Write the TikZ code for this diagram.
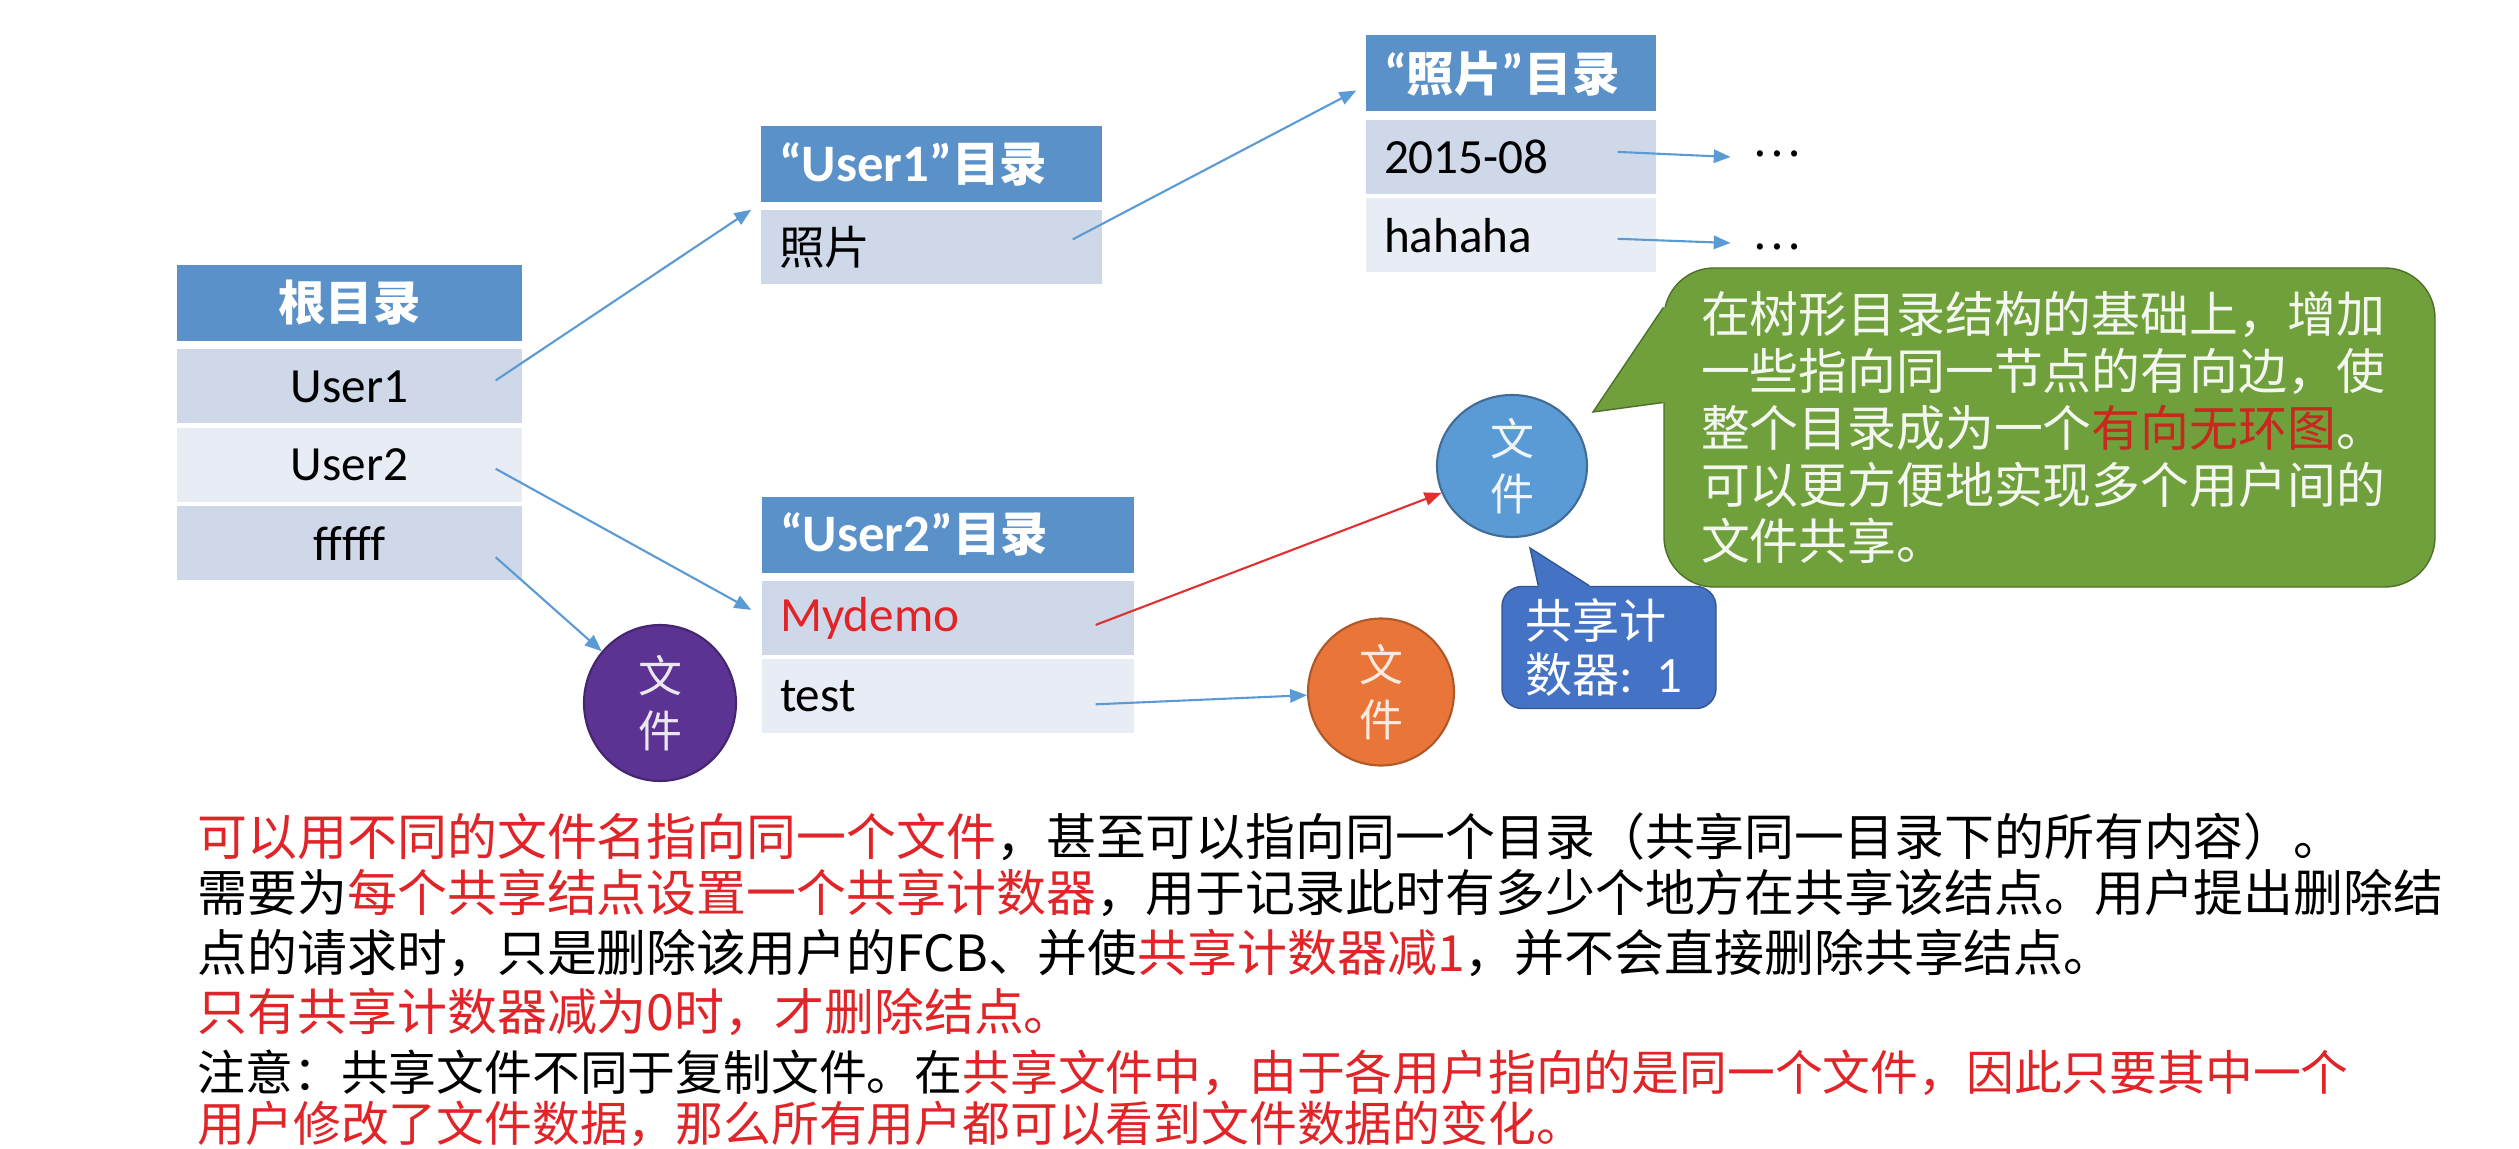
\documentclass[tikz,border=0pt]{standalone}
\usepackage{fontspec}
\setmainfont{Noto Sans CJK SC}
\newfontfamily\latfont{Carlito}
\usepackage{xcolor}
\usepackage{tikz}
\usetikzlibrary{arrows.meta, positioning, shapes.geometric}
\definecolor{hdrBlue}{RGB}{91,145,201}
\definecolor{rowDark}{RGB}{207,216,232}
\definecolor{rowLight}{RGB}{232,237,245}
\definecolor{arrBlue}{RGB}{91,155,213}
\definecolor{arrRed}{RGB}{224,48,48}
\definecolor{hiRed}{RGB}{224,36,40}
\definecolor{noteRed}{RGB}{200,40,30}
\definecolor{filePurple}{RGB}{92,50,146}
\definecolor{fileOrange}{RGB}{233,118,56}
\definecolor{fileBlue}{RGB}{91,155,213}
\definecolor{noteGreen}{RGB}{112,160,60}
\definecolor{noteBlue}{RGB}{68,114,196}
\newcommand\hdrfont{\fontsize{13.5}{16}\selectfont\bfseries}
\newcommand\cellfont{\fontsize{13}{15.5}\selectfont}
\newcommand\latcellfont{\fontsize{14}{16}\selectfont\latfont}
\newcommand\filefont{\fontsize{12.5}{15.5}\selectfont}
\newcommand\notefont{\fontsize{13.9}{16.2}\selectfont}
\newcommand\cntfont{\fontsize{13.4}{15.6}\selectfont}
\newcommand\bodyfont{\fontsize{14.2}{17}\selectfont}
\newcommand\redtxt[1]{\textcolor{hiRed}{#1}}

\begin{document}
\begin{tikzpicture}[
  hdr/.style={rectangle, fill=hdrBlue, text=white, font=\hdrfont, minimum height=0.76cm,
              inner xsep=0.18cm, inner ysep=0pt, text width=#1, align=left},
  cell/.style={rectangle, font=\cellfont, minimum height=0.74cm,
               inner xsep=0.18cm, inner ysep=0pt, text width=#1, align=left},
  dark/.style={fill=rowDark},
  light/.style={fill=rowLight},
  lat/.style={font=\latcellfont},
  file/.style={ellipse, font=\filefont, align=center, inner sep=0pt, line width=0.6pt},
  arr/.style={-{Triangle[length=4.8pt, width=3.8pt]}, line width=0.6pt, draw=arrBlue},
  note/.style={rectangle, fill=noteGreen, draw=noteGreen!70!black, rounded corners=0.5cm,
               text=white!92!noteGreen, font=\notefont, text width=6.97cm, inner xsep=0.37cm,
               minimum height=3.19cm, align=left},
  cntbox/.style={rectangle, fill=noteBlue, draw=noteBlue!75!black, rounded corners=0.2cm,
                 text=white, font=\cntfont, text width=1.68cm, inner xsep=0.23cm,
                 minimum height=1.19cm, align=left},
  body/.style={anchor=west, inner sep=0pt, font=\bodyfont}
]
\fill[white] (0,0) rectangle (25.19,-11.49);
\useasboundingbox (0,0) rectangle (25.19,-11.49);

% root directory
\node[hdr=3.09cm, align=center] (root) at (3.495,-3.03) {根目录};
\node[cell=3.09cm, dark, lat, align=center, below=0.07cm of root] (r1) {User1};
\node[cell=3.09cm, light, lat, align=center, below=0.03cm of r1] (r2) {User2};
\node[cell=3.09cm, dark, lat, align=center, below=0.03cm of r2] (r3) {fffff};

% user directories
\node[hdr=3.05cm] (ua) at (9.315,-1.64) {{\latfont\fontsize{15}{16}\selectfont “User1”}目录};
\node[cell=3.05cm, dark, below=0.07cm of ua] (ua1) {照片};
\node[hdr=2.54cm] (pa) at (15.11,-0.735) {{\latfont\fontsize{15}{16}\selectfont “}照片{\latfont\fontsize{15}{16}\selectfont ”}目录};
\node[cell=2.54cm, dark, lat, below=0.07cm of pa] (pa1) {2015-08};
\node[cell=2.54cm, light, lat, below=0.03cm of pa1] (pa2) {hahaha};
\node[hdr=3.36cm] (ub) at (9.48,-5.345) {{\latfont\fontsize{15}{16}\selectfont “User2”}目录};
\node[cell=3.36cm, dark, lat, text=hiRed, below=0.07cm of ub] (ub1) {Mydemo};
\node[cell=3.36cm, light, lat, below=0.03cm of ub1] (ub2) {test};

\node[font=\cellfont, inner sep=0pt] (d1) at (17.765,-1.54) {…};
\node[font=\cellfont, inner sep=0pt] (d2) at (17.765,-2.47) {…};

% files
\node[file, fill=filePurple, draw=filePurple!75!black, text=white!88!filePurple,
      minimum width=1.52cm, minimum height=1.56cm] (f1) at (6.60,-7.03) {文\\件};
\node[file, fill=fileOrange, draw=fileOrange!75!black, text=white!85!fileOrange,
      minimum width=1.46cm, minimum height=1.47cm] (f2) at (13.81,-6.92) {文\\件};
\node[file, fill=fileBlue, draw=fileBlue!70!black, text=white!90!fileBlue,
      minimum width=1.50cm, minimum height=1.42cm] (f3) at (15.12,-4.66) {文\\件};

\draw[arr] ([xshift=-0.27cm,yshift=0.06cm]r1.east) -- ([xshift=-0.09cm]ua1.north west);
\draw[arr] ([xshift=-0.27cm,yshift=-0.04cm]r2.east) -- ([xshift=-0.1cm,yshift=0.08cm]ub1.west);
\draw[arr] ([xshift=-0.27cm,yshift=-0.14cm]r3.east) -- (f1);
\draw[arr] ([xshift=-0.3cm,yshift=0.08cm]ua1.east) -- ([xshift=-0.09cm,yshift=-0.17cm]pa.west);
\draw[arr, draw=arrRed] ([xshift=-0.39cm,yshift=-0.07cm]ub1.east) -- (f3);
\draw[arr] ([xshift=-0.39cm,yshift=-0.08cm]ub2.east) -- (f2);
\draw[arr] ([xshift=-0.39cm,yshift=0.05cm]pa1.east) -- ([xshift=-0.21cm,yshift=-0.03cm]d1.west);
\draw[arr] ([xshift=-0.39cm,yshift=-0.035cm]pa2.east) -- ([xshift=-0.21cm,yshift=0.04cm]d2.west);

% callouts
\node[note] (note) at (20.495,-4.275) {在树形目录结构的基础上，增加\\
  一些指向同一节点的有向边，使\\
  整个目录成为一个\textcolor{noteRed}{有向无环图}。\\
  可以更方便地实现多个用户间的\\
  文件共享。};
\coordinate (nt) at (15.93,-4.12);
\fill[noteGreen] (nt) -- ([yshift=1.2cm]note.west) -- ([xshift=0.1cm,yshift=1.2cm]note.west)
  -- ([xshift=0.1cm,yshift=0.25cm]note.west) -- ([yshift=0.25cm]note.west) -- cycle;
\draw[noteGreen!70!black] ([yshift=1.2cm]note.west) -- (nt) -- ([yshift=0.25cm]note.west);

\node[cntbox] (cnt) at (16.09,-6.475) {共享计\\数器{\latfont\fontsize{14.5}{15.6}\selectfont: 1}};
\coordinate (ct) at (15.30,-5.48);
\fill[noteBlue] (ct) -- ([xshift=0.37cm]cnt.north west) -- ([xshift=0.37cm,yshift=-0.1cm]cnt.north west)
  -- ([xshift=0.88cm,yshift=-0.1cm]cnt.north west) -- ([xshift=0.88cm]cnt.north west) -- cycle;
\draw[noteBlue!75!black] ([xshift=0.37cm]cnt.north west) -- (ct) -- ([xshift=0.88cm]cnt.north west);

% explanation text
\node[body] (t1) at (1.97,-8.37) {\redtxt{可以用不同的文件名指向同一个文件}，甚至可以指向同一个目录（共享同一目录下的所有内容）。};
\node[body] (t2) at (1.97,-8.93) {需要为\redtxt{每个共享结点设置一个共享计数器}，用于记录此时有多少个地方在共享该结点。用户提出删除结};
\node[body] (t3) at (1.97,-9.53) {点的请求时，只是删除该用户的FCB、并使\redtxt{共享计数器减1}，并不会直接删除共享结点。};
\node[body] (t4) at (1.97,-10.12) {\redtxt{只有共享计数器减为0时，才删除结点。}};
\node[body, font=\fontsize{13.6}{16}\selectfont] (t5) at (1.97,-10.73) {注意：共享文件不同于复制文件。在\redtxt{共享文件中，由于各用户指向的是同一个文件，因此只要其中一个}};
\node[body, font=\fontsize{13.6}{16}\selectfont] (t6) at (1.97,-11.24) {\redtxt{用户修改了文件数据，那么所有用户都可以看到文件数据的变化。}};
\end{tikzpicture}
\end{document}
